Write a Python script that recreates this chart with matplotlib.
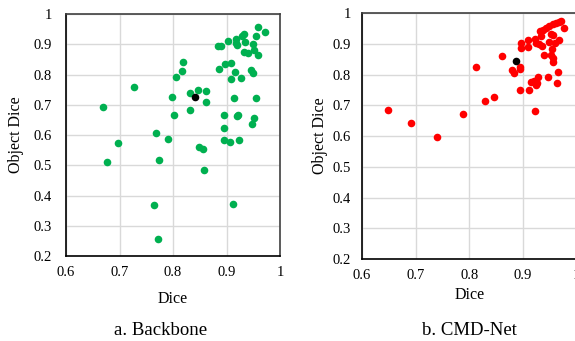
import matplotlib.pyplot as plt

plt.rcParams['font.family'] = ['Liberation Serif', 'DejaVu Serif']

# Backbone: (dice, object dice) per image, mean point in black
backbone_dice = [0.958, 0.971, 0.932, 0.929, 0.917, 0.956, 0.903, 0.935, 0.918, 0.919,
                 0.885, 0.890, 0.950, 0.951, 0.932, 0.941, 0.958, 0.897, 0.908, 0.886,
                 0.915, 0.945, 0.950, 0.909, 0.927, 0.819, 0.817, 0.805, 0.728, 0.799,
                 0.832, 0.847, 0.861, 0.861, 0.914, 0.955, 0.670, 0.831, 0.802, 0.895,
                 0.919, 0.922, 0.951, 0.947, 0.895, 0.769, 0.790, 0.698, 0.895, 0.907,
                 0.923, 0.849, 0.856, 0.774, 0.676, 0.858, 0.765, 0.912, 0.771]
backbone_obj = [0.958, 0.942, 0.935, 0.927, 0.918, 0.927, 0.912, 0.907, 0.903, 0.897,
                0.894, 0.895, 0.900, 0.881, 0.873, 0.871, 0.866, 0.835, 0.837, 0.819,
                0.808, 0.815, 0.804, 0.784, 0.788, 0.840, 0.813, 0.792, 0.759, 0.726,
                0.740, 0.748, 0.747, 0.709, 0.722, 0.723, 0.694, 0.682, 0.667, 0.665,
                0.662, 0.665, 0.657, 0.636, 0.623, 0.607, 0.586, 0.574, 0.583, 0.577,
                0.583, 0.559, 0.553, 0.517, 0.511, 0.485, 0.370, 0.372, 0.257]
backbone_mean = (0.842, 0.727)

# CMD-Net
cmd_dice = [0.937, 0.943, 0.949, 0.956, 0.962, 0.967, 0.971, 0.932, 0.896, 0.896,
            0.910, 0.909, 0.922, 0.925, 0.930, 0.933, 0.936, 0.940, 0.948, 0.953,
            0.956, 0.954, 0.953, 0.956, 0.957, 0.959, 0.967, 0.976, 0.861, 0.880,
            0.884, 0.894, 0.895, 0.894, 0.912, 0.915, 0.920, 0.926, 0.925, 0.929,
            0.946, 0.963, 0.965, 0.922, 0.648, 0.691, 0.739, 0.789, 0.830, 0.846,
            0.812]
cmd_obj = [0.946, 0.951, 0.957, 0.963, 0.968, 0.972, 0.976, 0.942, 0.903, 0.888,
           0.889, 0.914, 0.915, 0.903, 0.898, 0.925, 0.893, 0.865, 0.907, 0.931,
           0.929, 0.882, 0.863, 0.855, 0.840, 0.903, 0.914, 0.950, 0.859, 0.816,
           0.806, 0.825, 0.819, 0.751, 0.751, 0.777, 0.778, 0.773, 0.765, 0.792,
           0.791, 0.773, 0.810, 0.682, 0.686, 0.641, 0.598, 0.671, 0.715, 0.726,
           0.824]
cmd_mean = (0.888, 0.844)

xticks = [0.6, 0.7, 0.8, 0.9, 1.0]
yticks = [0.2, 0.3, 0.4, 0.5, 0.6, 0.7, 0.8, 0.9, 1.0]


def fmt(v):
    return '1' if v == 1.0 else '%g' % v


fig = plt.figure(figsize=(5.75, 3.41), dpi=100)
ax1 = fig.add_axes([0.1148, 0.249, 0.3722, 0.710])
ax2 = fig.add_axes([0.6296, 0.2405, 0.373, 0.721])

# axes, x, y, mean, colour, caption, caption x, ytick pad, ylabel pad, xlabel pad
panels = [(ax1, backbone_dice, backbone_obj, backbone_mean, '#00b050', 'a. Backbone', 0.28, 10, 7, 9),
          (ax2, cmd_dice, cmd_obj, cmd_mean, '#ff0000', 'b. CMD-Net', 0.817, 8, 3, 4)]

for ax, xs, ys, mean, col, cap, cx, ypad, ylp, xlp in panels:
    ax.scatter(xs, ys, s=30, color=col, linewidths=0, zorder=3)
    ax.scatter([mean[0]], [mean[1]], s=30, color='black', linewidths=0, zorder=4)
    ax.set_xlim(0.6, 1.0)
    ax.set_ylim(0.2, 1.0)
    ax.set_xticks(xticks)
    ax.set_xticklabels([fmt(v) for v in xticks], fontsize=10.5)
    ax.set_yticks(yticks)
    ax.set_yticklabels([fmt(v) for v in yticks], fontsize=10.5)
    ax.tick_params(axis='x', length=0, pad=7)
    ax.tick_params(axis='y', length=0, pad=ypad)
    ax.grid(True, color='#d9d9d9', lw=1, zorder=0)
    ax.set_axisbelow(True)
    for side in ['left', 'bottom']:
        ax.spines[side].set_color('black')
        ax.spines[side].set_linewidth(1.2)
    for side in ['top', 'right']:
        ax.spines[side].set_color('#404040')
        ax.spines[side].set_linewidth(1.2)
    ax.set_xlabel('Dice', fontsize=11.5, labelpad=xlp)
    ax.set_ylabel('Object Dice', fontsize=11.5, labelpad=ylp)
    fig.text(cx, 0.03, cap, fontsize=13.5, ha='center', va='center')

fig.savefig('out.png', dpi=100)
